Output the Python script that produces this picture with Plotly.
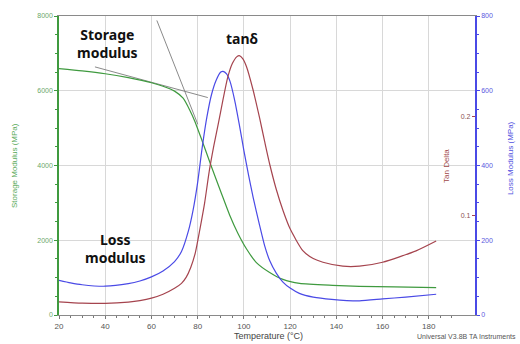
import plotly.graph_objects as go

# ---- data ----
temp_storage = [20, 30, 40, 50, 60, 65, 70, 73.7, 76.6, 78.8, 81.65, 85.97, 90.29, 93.87, 97.33,
                101.09, 105.41, 111.16, 116.9, 124.1, 138.4, 150, 165, 183.2]
storage_modulus = [6590, 6530, 6455, 6350, 6215, 6120, 5990, 5800, 5480, 5180, 4708, 3967, 3253,
                   2671, 2195, 1772, 1402, 1137, 952, 846, 793, 767, 750, 733]

temp_loss = [20, 25, 30, 40, 50, 55, 60, 65, 70, 73, 76, 78, 80, 82, 84, 86, 88, 90, 91, 92.5,
             94, 96, 98, 100, 102, 104, 106.8, 109, 111.2, 114, 116.9, 120, 124, 130, 138, 150,
             160, 170, 183.2]
loss_modulus = [92.6, 86, 81, 77, 84, 91, 102, 118, 143, 170, 225, 280, 355, 450, 530, 590, 628,
                650, 652, 645, 625, 575, 510, 440, 375, 315, 240, 185, 145, 112, 88, 72, 58, 48,
                42, 38, 43, 48, 55.5]

temp_tan = [20, 30, 40, 50, 55, 60, 65, 70, 73, 75, 77, 79, 81, 83, 85, 87, 89, 91, 93, 95, 97,
            98, 99.5, 101.1, 103.9, 106.8, 109, 111.2, 114, 117, 120, 125.5, 130, 134.2, 142.8,
            150, 160, 174.5, 183.2]
tan_delta = [0.0133, 0.0120, 0.0117, 0.0130, 0.0145, 0.017, 0.021, 0.027, 0.032, 0.038, 0.048,
             0.063, 0.087, 0.113, 0.145, 0.171, 0.194, 0.218, 0.240, 0.254, 0.261, 0.262, 0.259,
             0.251, 0.228, 0.199, 0.175, 0.152, 0.127, 0.105, 0.087, 0.065, 0.057, 0.0533, 0.0493,
             0.0493, 0.0533, 0.0648, 0.0747]

tangent1_temp = [35.55, 84.37]
tangent1_storage = [6638, 5818]
tangent2_temp = [62.34, 80.05]
tangent2_storage = [7881, 5104]

x_ticks = list(range(20, 201, 20))
storage_ticks = [0, 2000, 4000, 6000, 8000]
loss_ticks = [0, 200, 400, 600, 800]
tan_ticks = [0.1, 0.2]

GREEN = "#3f9a3f"
BLUE = "#4a4ae6"
RED = "#a5444e"
GRAY = "#8a8a8a"

fig = go.Figure()
fig.add_trace(go.Scatter(x=tangent1_temp, y=tangent1_storage, mode="lines",
                         line=dict(color=GRAY, width=1), yaxis="y", showlegend=False))
fig.add_trace(go.Scatter(x=tangent2_temp, y=tangent2_storage, mode="lines",
                         line=dict(color=GRAY, width=1), yaxis="y", showlegend=False))
fig.add_trace(go.Scatter(x=temp_storage, y=storage_modulus, mode="lines",
                         line=dict(color=GREEN, width=1.2, shape="spline", smoothing=0.6),
                         yaxis="y", showlegend=False))
fig.add_trace(go.Scatter(x=temp_loss, y=loss_modulus, mode="lines",
                         line=dict(color=BLUE, width=1.2, shape="spline", smoothing=0.6),
                         yaxis="y2", showlegend=False))
fig.add_trace(go.Scatter(x=temp_tan, y=tan_delta, mode="lines",
                         line=dict(color=RED, width=1.2, shape="spline", smoothing=0.6),
                         yaxis="y3", showlegend=False))

L, R, T, B = 59, 45, 12, 29
W, H = 520, 344
pw, ph = W - L - R, H - T - B


def px(x):
    return (x - L) / pw


def py(y):
    return (H - B - y) / ph


fig.update_layout(
    width=W, height=H,
    margin=dict(l=L, r=R, t=T, b=B, pad=0),
    paper_bgcolor="white", plot_bgcolor="white",
    font=dict(family="Arial, Liberation Sans, sans-serif"),
    xaxis=dict(range=[20, 200], tickvals=x_ticks, showgrid=True, gridcolor="#d8d8d8",
               gridwidth=1, showline=True, linecolor="#8a8a8a", linewidth=1, mirror=True,
               ticks="outside", ticklen=3, tickcolor="#777",
               minor=dict(dtick=5, ticks="outside", ticklen=2, tickcolor="#777", showgrid=False),
               tickfont=dict(size=8, color="#555"), zeroline=False),
    yaxis=dict(range=[0, 8000], tickvals=storage_ticks, showgrid=True, gridcolor="#d8d8d8",
               showline=True, linecolor=GREEN, linewidth=1.5, ticks="outside", ticklen=3,
               tickcolor=GREEN,
               minor=dict(dtick=500, ticks="outside", ticklen=2, tickcolor=GREEN, showgrid=False),
               tickfont=dict(size=7, color="#6aa86a"), zeroline=False),
    yaxis2=dict(range=[0, 800], tickvals=loss_ticks, overlaying="y", side="right",
                anchor="x", showgrid=False, showline=True, linecolor=BLUE, linewidth=1.5,
                ticks="outside", ticklen=3, tickcolor=BLUE,
                minor=dict(dtick=50, ticks="outside", ticklen=2, tickcolor=BLUE),
                tickfont=dict(size=7, color="#5a5ae0"), zeroline=False),
    yaxis3=dict(range=[0, 0.302], tickvals=tan_ticks, overlaying="y", side="right",
                anchor="free", position=1, showgrid=False, showline=False,
                ticks="inside", ticklen=3, tickcolor=RED, ticklabelposition="inside",
                tickfont=dict(size=7, color="#8a5050"), zeroline=False),
)

annos = [
    dict(text="<b>Storage<br>modulus</b>", x=px(107), y=py(40), size=14, color="#111"),
    dict(text="<b>tanδ</b>", x=px(242), y=py(35), size=14, color="#111"),
    dict(text="<b>Loss<br>modulus</b>", x=px(115), y=py(248), size=14, color="#111"),
    dict(text="Temperature (°C)", x=px(268), y=py(336), size=9, color="#444"),
    dict(text="Storage Modulus (MPa)", x=px(15), y=py(164), size=8, color="#5aaa5a", angle=-90),
    dict(text="Loss Modulus (MPa)", x=px(510), y=py(156), size=8, color="#5050e0", angle=-90),
    dict(text="Tan Delta", x=px(447), y=py(164), size=8, color="#a04848", angle=-90),
]
for a in annos:
    fig.add_annotation(text=a["text"], x=a["x"], y=a["y"], xref="paper", yref="paper",
                       showarrow=False, xanchor="center", yanchor="middle",
                       textangle=a.get("angle", 0),
                       font=dict(size=a["size"], color=a["color"],
                                 family="Noto Sans, Arial, sans-serif" if a["size"] >= 14
                                 else "Arial, Liberation Sans, sans-serif"))
fig.add_annotation(text="Universal V3.8B TA Instruments", x=px(518), y=py(337), xref="paper",
                   yref="paper", showarrow=False, xanchor="right", yanchor="middle",
                   font=dict(size=7, color="#555", family="Arial, Liberation Sans, sans-serif"))

fig.write_html("out.html")
